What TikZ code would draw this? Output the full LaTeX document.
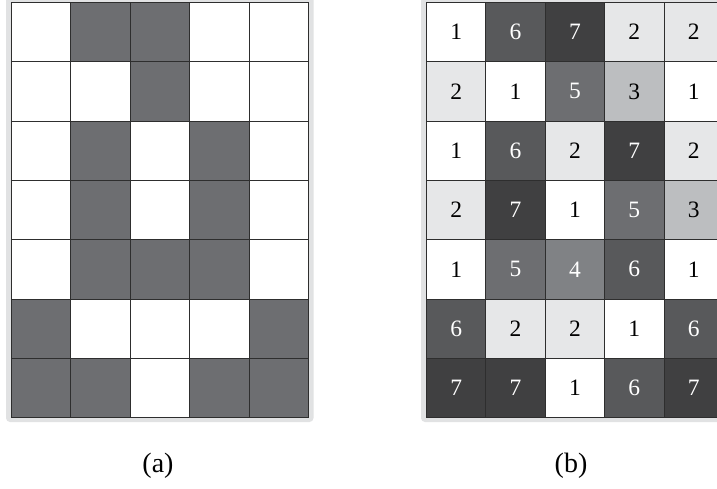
\documentclass[tikz,border=0pt]{standalone}
\usepackage{fontspec}
\setmainfont{Liberation Serif}
\definecolor{frameg}{HTML}{E1E2E3}
\definecolor{gridline}{HTML}{2E2E2E}
\definecolor{ca}{HTML}{6D6E71}
\definecolor{c1}{HTML}{FFFFFF}
\definecolor{c2}{HTML}{E6E7E8}
\definecolor{c3}{HTML}{BCBEC0}
\definecolor{c4}{HTML}{808285}
\definecolor{c5}{HTML}{6D6E71}
\definecolor{c6}{HTML}{58595B}
\definecolor{c7}{HTML}{404041}
\begin{document}
\begin{tikzpicture}[x=1pt,y=-1pt,
  cell/.style={draw=gridline,line width=0.9pt,minimum width=59.4pt,minimum height=59.3pt,inner sep=0pt,anchor=north west,font=\fontsize{23.5}{23.5}\selectfont},
  frame/.style={fill=frameg,rounded corners=4pt},
  caption/.style={font=\fontsize{28}{28}\selectfont}]
\useasboundingbox (0,0) rectangle (717,488);
\fill[white] (0,0) rectangle (717,488);
\begin{scope}
\clip (0,0) rectangle (717,488);
\path[frame] (6,-4) rectangle (313.5,422);
\path[frame] (421,-4) rectangle (730,422);
% grid (a)
\foreach \row [count=\r from 0] in {{0,1,1,0,0},{0,0,1,0,0},{0,1,0,1,0},{0,1,0,1,0},{0,1,1,1,0},{1,0,0,0,1},{1,1,0,1,1}}{
  \foreach \v [count=\c from 0] in \row {
    \ifnum\v=1 \def\fc{ca}\else\def\fc{white}\fi
    \node[cell,fill=\fc] (a-\r-\c) at ({11+59.4*\c},{2+59.3*\r}) {};
  }
}
% grid (b)
\foreach \row [count=\r from 0] in {{1,6,7,2,2},{2,1,5,3,1},{1,6,2,7,2},{2,7,1,5,3},{1,5,4,6,1},{6,2,2,1,6},{7,7,1,6,7}}{
  \foreach \v [count=\c from 0] in \row {
    \ifnum\v>3 \def\tc{white}\else\def\tc{black}\fi
    \node[cell,fill=c\v,text=\tc] (b-\r-\c) at ({426+59.4*\c},{2+59.3*\r}) {\v};
  }
}
\end{scope}
\node[caption] (capa) at (158,466) {(a)};
\node[caption] (capb) at (571,466) {(b)};
\end{tikzpicture}
\end{document}
